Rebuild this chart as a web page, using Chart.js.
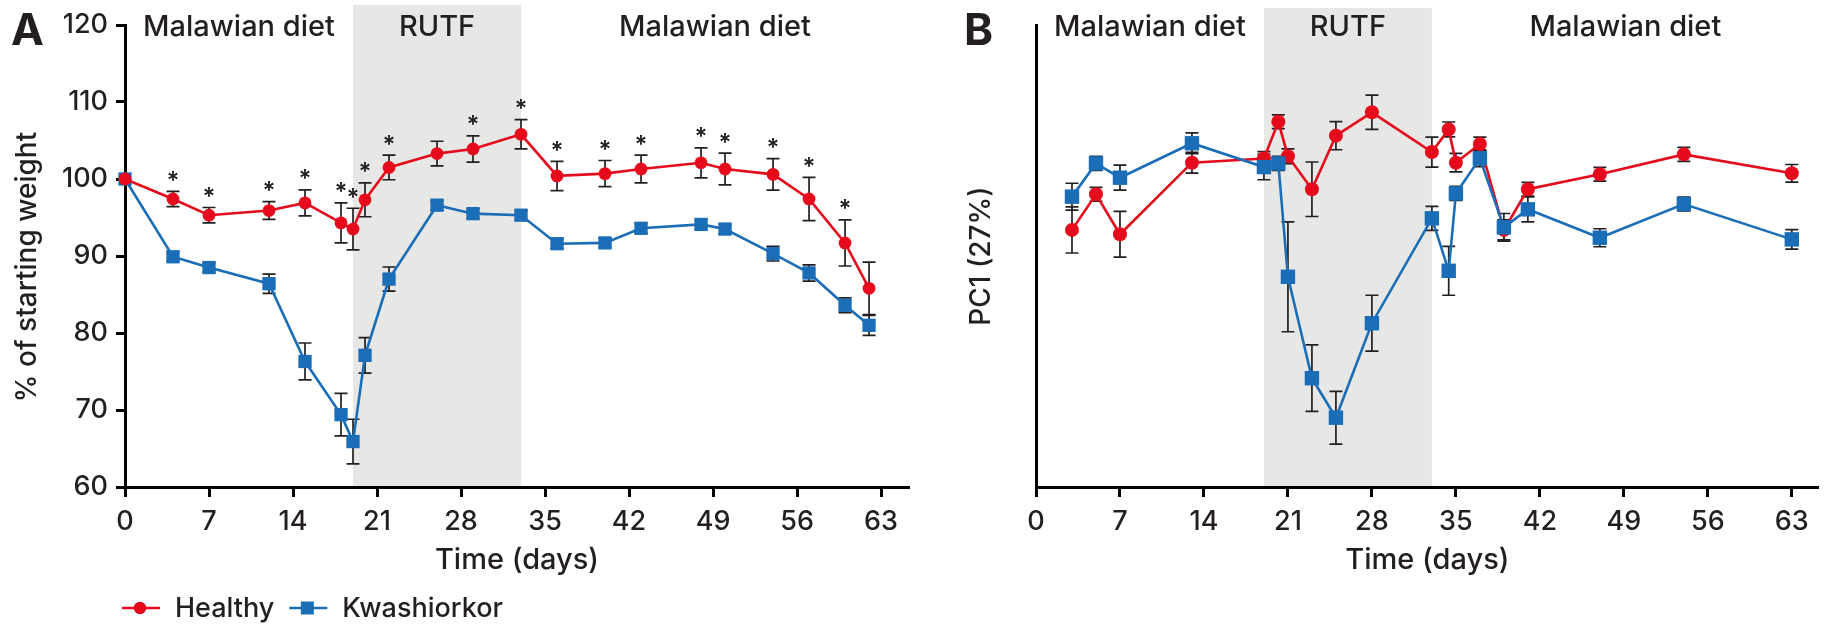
<!DOCTYPE html>
<html>
<head>
<meta charset="utf-8">
<script src="https://cdn.jsdelivr.net/npm/chart.js@4.4.1/dist/chart.umd.min.js"></script>
<style>
  html, body { margin: 0; padding: 0; background: #ffffff; }
  #wrap { position: relative; width: 1829px; height: 626px; overflow: hidden; }
  canvas { position: absolute; top: 0; }
  #weight { left: 0; }
  #pc1 { left: 940px; }
</style>
</head>
<body>
<div id="wrap">
  <canvas id="weight" width="940" height="626"></canvas>
  <canvas id="pc1" width="889" height="626"></canvas>
</div>
<script>
// ---- Panel A: body weight, % of starting weight (mean ± SEM) ----
const weightDays      = [0, 4, 7, 12, 15, 18, 19, 20, 22, 26, 29, 33, 36, 40, 43, 48, 50, 54, 57, 60, 62];
const weightHealthy   = [100, 97.4, 95.3, 95.9, 96.9, 94.3, 93.5, 97.3, 101.5, 103.3, 103.9, 105.8, 100.4, 100.7, 101.3, 102.1, 101.3, 100.6, 97.4, 91.7, 85.8];
const weightHealthyErr= [0, 1.0, 1.0, 1.15, 1.7, 2.6, 2.7, 2.2, 1.6, 1.6, 1.7, 1.9, 1.9, 1.7, 1.8, 1.95, 2.05, 2.05, 2.8, 3.0, 3.4];
const weightKwash     = [100, 89.9, 88.5, 86.4, 76.3, 69.4, 65.9, 77.1, 87.0, 96.6, 95.5, 95.3, 91.6, 91.7, 93.6, 94.1, 93.5, 90.3, 87.8, 83.6, 81.0];
const weightKwashErr  = [0, 0.6, 0.6, 1.25, 2.4, 2.75, 2.9, 2.3, 1.57, 0.6, 0.6, 0.6, 0.6, 0.6, 0.6, 0.6, 0.6, 0.95, 1.05, 0.95, 1.3];
// days where the groups differ significantly
const weightStarDays  = [4, 7, 12, 15, 18, 19, 20, 22, 29, 33, 36, 40, 43, 48, 50, 54, 57, 60];

// ---- Panel B: PC1 score (mean ± SEM) ----
const pcDays       = [3, 5, 7, 13, 19, 20.2, 21, 23, 25, 28, 33, 34.4, 35, 37, 39, 41, 47, 54, 63];
const pcHealthy    = [1.13, 2.67, 0.94, 4.04, 4.22, 5.81, 4.32, 2.89, 5.21, 6.22, 4.50, 5.48, 4.04, 4.85, 1.13, 2.89, 3.54, 4.40, 3.58];
const pcHealthyErr = [1.0, 0.3, 0.99, 0.45, 0.3, 0.3, 0.32, 1.18, 0.61, 0.74, 0.65, 0.32, 0.40, 0.3, 0.43, 0.3, 0.3, 0.3, 0.38];
const pcKwash      = [2.57, 4.01, 3.39, 4.88, 3.85, 4.01, -0.90, -5.29, -7.00, -2.91, 1.63, -0.64, 2.71, 4.23, 1.24, 2.02, 0.79, 2.25, 0.72];
const pcKwashErr   = [0.58, 0.3, 0.54, 0.45, 0.55, 0.3, 2.38, 1.44, 1.14, 1.21, 0.52, 1.06, 0.3, 0.36, 0.6, 0.54, 0.39, 0.3, 0.42];

// ---- Axes ----
const dayTicks    = [0, 7, 14, 21, 28, 35, 42, 49, 56, 63];
const weightTicks = [60, 70, 80, 90, 100, 110, 120];

// Diet phases along the time axis
const dietPhases = [
  { label: 'Malawian diet', start: 0,  end: 19 },
  { label: 'RUTF',          start: 19, end: 33, shaded: true },
  { label: 'Malawian diet', start: 33, end: null }
];

const INK  = '#231f20';
const RED  = '#e50a1c';
const BLUE = '#1a6db7';
const FONT = 'Inter, "Liberation Sans", Arial, sans-serif';
const W    = '500 ';

const toPoints = (xs, ys) => xs.map((x, i) => ({ x: x, y: ys[i] }));

// Shaded RUTF period, phase labels, panel letter and rotated y title
const phasePlugin = {
  id: 'phases',
  beforeDraw(chart, args, o) {
    const { ctx, chartArea, scales: { x } } = chart;
    ctx.save();
    dietPhases.forEach(p => {
      const x0 = x.getPixelForValue(p.start);
      const x1 = x.getPixelForValue(p.end === null ? x.max : p.end);
      if (p.shaded) {
        ctx.fillStyle = '#e7e7e5';
        ctx.fillRect(x0, o.shadeTop, x1 - x0, chartArea.bottom - o.shadeTop);
      }
      ctx.fillStyle = INK;
      ctx.font = W + '29px ' + FONT;
      ctx.textAlign = 'center';
      ctx.textBaseline = 'alphabetic';
      ctx.fillText(p.label, (x0 + x1) / 2, 36);
    });
    ctx.font = 'bold 44px ' + FONT;
    ctx.textAlign = 'left';
    ctx.fillText(o.letter, o.letterX, 45);
    ctx.translate(o.titleX, o.titleY);
    ctx.rotate(-Math.PI / 2);
    ctx.font = W + '28px ' + FONT;
    ctx.textAlign = 'center';
    ctx.textBaseline = 'middle';
    ctx.fillText(o.yTitle, 0, 0);
    ctx.restore();
  }
};

// Vertical error bars with caps, drawn beneath the markers
const errorBarPlugin = {
  id: 'errorBars',
  beforeDatasetsDraw(chart) {
    const { ctx, scales: { x, y } } = chart;
    ctx.save();
    ctx.strokeStyle = INK;
    ctx.lineWidth = 1.7;
    chart.data.datasets.forEach(ds => {
      (ds.errors || []).forEach((e, i) => {
        if (!e) return;
        const pt = ds.data[i];
        const px = x.getPixelForValue(pt.x);
        const yt = y.getPixelForValue(pt.y + e);
        const yb = y.getPixelForValue(pt.y - e);
        ctx.beginPath();
        ctx.moveTo(px, yt); ctx.lineTo(px, yb);
        ctx.moveTo(px - 6.5, yt); ctx.lineTo(px + 6.5, yt);
        ctx.moveTo(px - 6.5, yb); ctx.lineTo(px + 6.5, yb);
        ctx.stroke();
      });
    });
    ctx.restore();
  }
};

// Significance asterisks above the upper error bar of the Healthy series
const starPlugin = {
  id: 'stars',
  afterDatasetsDraw(chart, args, o) {
    if (!o.days) return;
    const { ctx, scales: { x, y } } = chart;
    const ds = chart.data.datasets[0];
    ctx.save();
    ctx.fillStyle = INK;
    ctx.font = '600 24px ' + FONT;
    ctx.textAlign = 'center';
    ctx.textBaseline = 'alphabetic';
    o.days.forEach(d => {
      const i = ds.data.findIndex(p => p.x === d);
      if (i < 0) return;
      const pt = ds.data[i];
      const cy = y.getPixelForValue(pt.y + ds.errors[i]) - 16;
      ctx.fillText('*', x.getPixelForValue(d), cy + 13.5);
    });
    ctx.restore();
  }
};

// Legend row: line + marker + label for each series
const legendPlugin = {
  id: 'seriesLegend',
  afterDraw(chart, args, o) {
    if (!o.show) return;
    const { ctx } = chart;
    ctx.save();
    let x0 = o.x;
    const y0 = o.y;
    ctx.font = W + '27px ' + FONT;
    ctx.textBaseline = 'alphabetic';
    ctx.textAlign = 'left';
    chart.data.datasets.forEach(ds => {
      ctx.strokeStyle = ds.borderColor;
      ctx.lineWidth = 2.6;
      ctx.beginPath();
      ctx.moveTo(x0, y0); ctx.lineTo(x0 + 38, y0);
      ctx.stroke();
      ctx.fillStyle = ds.borderColor;
      Chart.helpers.drawPoint(ctx, {
        pointStyle: ds.pointStyle, radius: ds.pointStyle === 'rect' ? 9.2 : 6.2,
        rotation: 0, borderWidth: 0
      }, x0 + 18, y0);
      ctx.fillStyle = INK;
      ctx.fillText(ds.label, x0 + 53, y0 + 9);
      x0 += 53 + ctx.measureText(ds.label).width + 15;
    });
    ctx.restore();
  }
};

function series(label, days, vals, errs, color, style, radius, order) {
  return {
    label: label,
    data: toPoints(days, vals),
    errors: errs,
    borderColor: color,
    backgroundColor: color,
    pointBackgroundColor: color,
    pointBorderWidth: 0,
    pointStyle: style,
    pointRadius: radius,
    borderWidth: 2.6,
    tension: 0,
    clip: false,
    order: order
  };
}

function xAxis(max) {
  return {
    type: 'linear',
    min: 0,
    max: max,
    afterBuildTicks: s => { s.ticks = dayTicks.map(v => ({ value: v })); },
    afterFit: s => { s.height = 139; },
    grid: { display: true, drawOnChartArea: false, drawTicks: true, tickLength: 10, tickWidth: 3, tickColor: '#000' },
    border: { display: true, color: '#000', width: 3 },
    ticks: { color: INK, font: { family: FONT, size: 27, weight: '500' }, padding: 9, maxRotation: 0, autoSkip: false },
    title: { display: true, text: 'Time (days)', color: INK, font: { family: FONT, size: 29, weight: '500' }, padding: { top: 0, bottom: 48 } }
  };
}

const common = {
  responsive: false,
  animation: false,
  events: [],
  parsing: false
};

Chart.defaults.font.family = FONT;

new Chart(document.getElementById('weight'), {
  type: 'line',
  data: {
    datasets: [
      series('Healthy', weightDays, weightHealthy, weightHealthyErr, RED, 'circle', 6.4, 1),
      series('Kwashiorkor', weightDays, weightKwash, weightKwashErr, BLUE, 'rect', 9.4, 2)
    ]
  },
  options: Object.assign({}, common, {
    layout: { padding: { left: 0, right: 31, top: 25, bottom: 0 } },
    scales: {
      x: xAxis(65.33),
      y: {
        type: 'linear',
        min: 60,
        max: 120,
        afterBuildTicks: s => { s.ticks = weightTicks.map(v => ({ value: v })); },
        afterFit: s => { s.width = 125; },
        grid: { display: true, drawOnChartArea: false, drawTicks: true, tickLength: 9, tickWidth: 3, tickColor: '#000' },
        border: { display: true, color: '#000', width: 3 },
        ticks: { color: INK, font: { family: FONT, size: 27, weight: '500' }, padding: 8 }
      }
    },
    plugins: {
      legend: { display: false },
      tooltip: { enabled: false },
      phases: { shadeTop: 5, letter: 'A', letterX: 11, titleX: 28, titleY: 267, yTitle: '% of starting weight' },
      stars: { days: weightStarDays },
      seriesLegend: { show: true, x: 122, y: 608 }
    }
  }),
  plugins: [phasePlugin, errorBarPlugin, starPlugin, legendPlugin]
});

new Chart(document.getElementById('pc1'), {
  type: 'line',
  data: {
    datasets: [
      series('Healthy', pcDays, pcHealthy, pcHealthyErr, RED, 'circle', 7, 2),
      series('Kwashiorkor', pcDays, pcKwash, pcKwashErr, BLUE, 'rect', 10.2, 1)
    ]
  },
  options: Object.assign({}, common, {
    layout: { padding: { left: 0, right: 10, top: 25, bottom: 0 } },
    scales: {
      x: xAxis(65.25),
      y: {
        type: 'linear',
        min: -10,
        max: 10,
        afterFit: s => { s.width = 96; },
        grid: { display: false },
        border: { display: true, color: '#000', width: 3 },
        ticks: { display: false }
      }
    },
    plugins: {
      legend: { display: false },
      tooltip: { enabled: false },
      phases: { shadeTop: 8, letter: 'B', letterX: 24, titleX: 42, titleY: 256, yTitle: 'PC1 (27%)' },
      stars: { days: null },
      seriesLegend: { show: false }
    }
  }),
  plugins: [phasePlugin, errorBarPlugin, starPlugin, legendPlugin]
});
</script>
</body>
</html>
